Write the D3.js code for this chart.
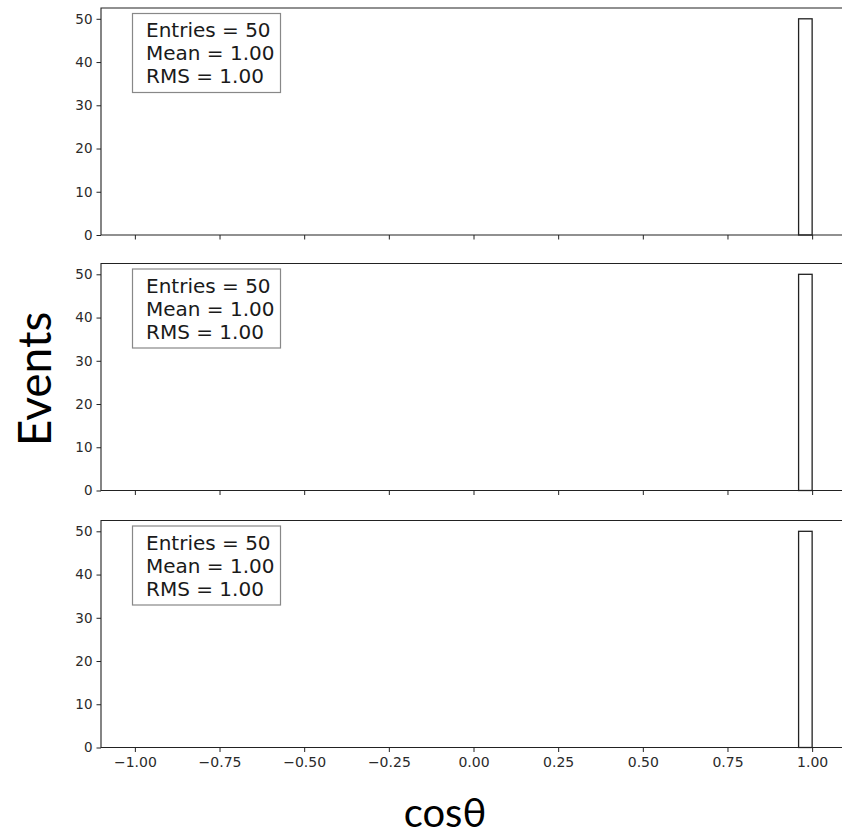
<!DOCTYPE html>
<html><head><meta charset="utf-8">
<script src="https://cdn.jsdelivr.net/npm/d3@7"></script>
<style>body{margin:0;background:#fff}svg{display:block}</style>
</head><body><svg id="c" width="842" height="835"></svg>
<script>
// Histogram of cos(theta), three stacked panels sharing the x axis.
const binLo = [0.96];
const binHi = [1.00];
const countsTop = [50];
const countsMid = [50];
const countsBot = [50];
const panelCounts = [countsTop, countsMid, countsBot];
const statLabels = ["Entries = 50", "Mean = 1.00", "RMS = 1.00"];
const xTicks = [-1.00, -0.75, -0.50, -0.25, 0.00, 0.25, 0.50, 0.75, 1.00];
const yTicks = [0, 10, 20, 30, 40, 50];
const xDomain = [-1.1, 1.1];
const yDomain = [0, 52.5];

const svg = d3.select("#c");
const left = 101, right = 846, panelH = 227;
const panelTops = [8, 263.5, 520.5];
const ink = "#222";
const tickFont = "DejaVu Sans, sans-serif";

const x = d3.scaleLinear().domain(xDomain).range([left, right]);

panelTops.forEach((top, p) => {
  const y = d3.scaleLinear().domain(yDomain).range([top + panelH, top]);
  const g = svg.append("g");
  const counts = panelCounts[p];

  // bars
  g.selectAll("rect.bar").data(counts).join("rect")
    .attr("class", "bar")
    .attr("x", (d, i) => x(binLo[i]))
    .attr("y", d => y(d))
    .attr("width", (d, i) => x(binHi[i]) - x(binLo[i]))
    .attr("height", d => y(0) - y(d))
    .attr("fill", "#fff").attr("stroke", ink).attr("stroke-width", 1.3);

  // y axis
  const ya = g.append("g").attr("transform", `translate(${left},0)`)
    .call(d3.axisLeft(y).tickValues(yTicks).tickFormat(d3.format("d")).tickSize(4.5).tickPadding(4));
  ya.select(".domain").remove();
  ya.selectAll("line").attr("stroke", ink).attr("stroke-width", 1);
  ya.selectAll("text").attr("fill", "#2a2a2a").style("font", `13.5px ${tickFont}`);

  // x axis
  const xa = g.append("g").attr("transform", `translate(0,${top + panelH})`)
    .call(d3.axisBottom(x).tickValues(xTicks).tickFormat(p === 2 ? d3.format(".2f") : () => "").tickSize(4.5).tickPadding(5));
  xa.select(".domain").remove();
  xa.selectAll("line").attr("stroke", ink).attr("stroke-width", 1);
  xa.selectAll("text").attr("fill", "#2a2a2a").style("font", `14px ${tickFont}`);

  // spines
  g.append("path")
    .attr("d", `M${right},${top}H${left}V${top + panelH}H${right}`)
    .attr("fill", "none").attr("stroke", ink).attr("stroke-width", 1.1);

  // stats box
  g.append("rect")
    .attr("x", 132.5).attr("y", top + 5.5).attr("width", 148).attr("height", 79)
    .attr("fill", "#fff").attr("stroke", "#888").attr("stroke-width", 1.2);
  g.selectAll("text.stat").data(statLabels).join("text")
    .attr("class", "stat")
    .attr("x", 146).attr("y", (d, i) => top + 29 + i * 23)
    .attr("fill", "#1a1a1a")
    .style("font", `20px ${tickFont}`)
    .text(d => d);
});

// axis titles
svg.append("text")
  .attr("transform", "translate(51,379) rotate(-90)")
  .attr("text-anchor", "middle")
  .style("font", "46px Lato, sans-serif")
  .attr("fill", "#000")
  .text("Events");
svg.append("text")
  .attr("x", 445).attr("y", 827)
  .attr("text-anchor", "middle")
  .style("font", "40px Lato, sans-serif")
  .attr("fill", "#000")
  .text("cosθ");
</script>
</body></html>
